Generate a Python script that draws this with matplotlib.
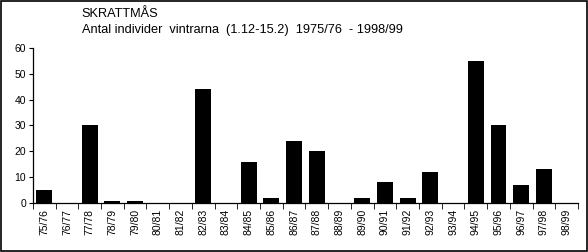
import matplotlib as mpl
import matplotlib.pyplot as plt
from matplotlib.patches import Rectangle

mpl.use('Agg')
plt.rcParams['font.family'] = ['Liberation Sans', 'DejaVu Sans']

sasonger = ['75/76', '76/77', '77/78', '78/79', '79/80', '80/81', '81/82', '82/83',
            '83/84', '84/85', '85/86', '86/87', '87/88', '88/89', '89/90', '90/91',
            '91/92', '92/93', '93/94', '94/95', '95/96', '96/97', '97/98', '98/99']
antal = [5, 0, 30, 1, 1, 0, 0, 44, 0, 16, 2, 24, 20, 0, 2, 8, 2, 12, 0, 55, 30, 7, 13, 0]
y_ticks = [0, 10, 20, 30, 40, 50, 60]

fig = plt.figure(figsize=(5.88, 2.52), dpi=100)
ax = fig.add_axes([0.056, 0.194, 0.927, 0.616])

x = list(range(len(sasonger)))
ax.bar(x, antal, width=0.7, color='black')

ax.set_xlim(-0.5, len(sasonger) - 0.5)
ax.set_ylim(0, 60)
ax.set_yticks(y_ticks)
ax.tick_params(axis='y', labelsize=7.5, length=3, direction='out', pad=2)

ax.set_xticks(x)
ax.set_xticklabels(sasonger, rotation=90, fontsize=7.5)
ax.tick_params(axis='x', which='major', length=0, pad=4)
ax.set_xticks([i - 0.5 for i in range(len(sasonger) + 1)], minor=True)
ax.tick_params(axis='x', which='minor', length=4, direction='out')

for s in ['top', 'right']:
    ax.spines[s].set_visible(False)
for s in ['left', 'bottom']:
    ax.spines[s].set_linewidth(0.9)

fig.text(0.139, 0.945, 'SKRATTMÅS', fontsize=9.2, va='center')
fig.text(0.139, 0.88, 'Antal individer  vintrarna  (1.12-15.2)  1975/76  - 1998/99',
         fontsize=9.2, va='center')

fig.patches.append(Rectangle((0.002, 0.004), 0.996, 0.992, transform=fig.transFigure,
                             fill=False, edgecolor='black', linewidth=1.2))

plt.savefig('out.png', dpi=100)
